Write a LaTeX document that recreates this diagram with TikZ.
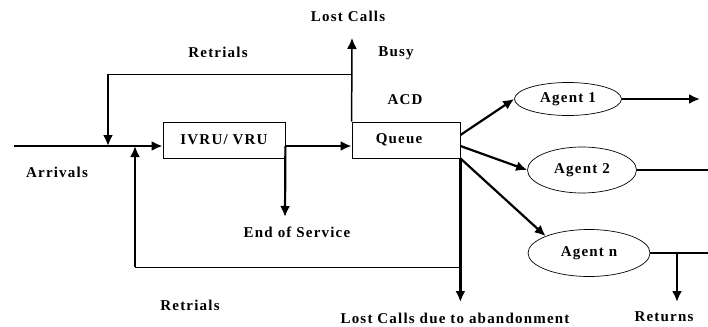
\documentclass[tikz,border=0pt]{standalone}
\usepackage{fontspec}
\setmainfont{Liberation Serif}[LetterSpace=8]
\usepackage{tikz}
\usetikzlibrary{arrows.meta,shapes.geometric}

\begin{document}
\begin{tikzpicture}[y=-1pt, x=1pt,
  every node/.style={font=\bfseries\fontsize{15}{17}\selectfont, inner sep=0pt},
  box/.style={draw, line width=.8pt, minimum height=36pt},
  agent/.style={draw, ellipse, line width=.7pt},
  flow/.style={line width=2.2pt, -{Latex[length=11pt,width=10pt]}},
  link/.style={line width=2.2pt},
  back/.style={line width=.9pt}]
\useasboundingbox (0,0) rectangle (708,326);
\node[box, minimum width=122pt] (ivru) at (224,140) {IVRU/ VRU};
\node[box, minimum width=108pt] (queue) at (406,140) {\hspace*{-14pt}Queue};
\node[agent, minimum width=107pt, minimum height=33pt] (a1) at (568,99) {Agent 1};
\node[agent, minimum width=109pt, minimum height=46pt] (a2) at (582,170) {Agent 2};
\node[agent, minimum width=122pt, minimum height=47pt] (an) at (589,253) {Agent n};
\node (arrivals) at (57,172) {Arrivals};
\node (lost) at (348,16) {Lost Calls};
\node (busy) at (396,53) {Busy};
\node (acd) at (405,100) {ACD};
\node (rtoplbl) at (218,52) {Retrials};
\node (rbotlbl) at (190,305) {Retrials};
\node (eos) at (297,232) {End of Service};
\node (aband) at (455,318) {Lost Calls due to abandonment};
\node (ret) at (664,317) {Returns};
\coordinate (in) at (14,146);
\coordinate (rtop) at (108,74);
\coordinate (rbot) at (135,267);
\coordinate (lostup) at (352,38);
\coordinate (eosup) at (285,217);
\coordinate (out1) at (700,99);
\coordinate (out2) at (708,170);
\coordinate (outn) at (708,253);
\coordinate (rj) at (677,253);
\draw[flow] (in) -- (ivru.west |- in);
\draw[flow] (ivru.east |- in) -- (queue.west |- in);
\draw[flow] (ivru.east |- in) -- (eosup);
\draw[back] (queue.north west |- rtop) -- (rtop);
\draw[flow] (rtop) -- (rtop |- in);
\draw[back] (queue.south east |- rbot) -- (rbot);
\draw[flow] (rbot) -- (rbot |- in);
\draw[line width=1.5pt, -{Latex[length=11pt,width=10pt]}] (queue.north west) -- (lostup);
\draw[flow] (queue.south east) -- (queue.south east |- 0,302);
\draw[flow] ([yshift=5pt]queue.east) -- (a1.west);
\draw[flow] (queue.east |- in) -- (a2.west);
\draw[flow] (queue.south east) -- (an.north west);
\draw[flow] (a1.east) -- (out1);
\draw[link] (a2.east) -- (out2);
\draw[link] (an.east) -- (outn);
\draw[flow] (rj) -- (rj |- 0,302);
\end{tikzpicture}
\end{document}
